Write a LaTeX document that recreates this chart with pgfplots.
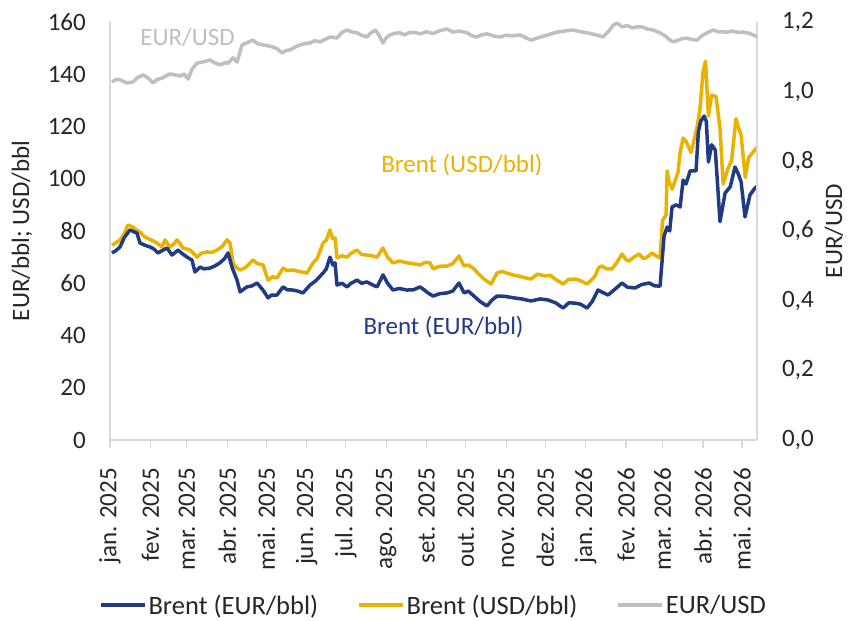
\documentclass[border=0pt]{standalone}
\usepackage{fontspec}
\setmainfont{Carlito}
\usepackage{pgfplots}
\pgfplotsset{compat=1.18}
\usepackage{pgfplotstable}
\definecolor{navy}{HTML}{203B83}
\definecolor{gold}{HTML}{EAB200}
\definecolor{lgray}{HTML}{BFBFBF}
\definecolor{axgray}{HTML}{D9D9D9}
\definecolor{txt}{HTML}{262626}
\newcommand\chartfont{\fontsize{25bp}{30bp}\selectfont}
\newcommand\legfont{\fontsize{26.5bp}{31bp}\selectfont}

\pgfplotstableread{
day val
1.5 1.028
4.6 1.035
7.7 1.034
10 1.030
13 1.025
17.7 1.028
21 1.040
25.3 1.048
29 1.040
33 1.025
36 1.035
39.9 1.039
43 1.045
46 1.051
50 1.048
53.7 1.045
57 1.050
59.9 1.036
63 1.065
66.8 1.082
71 1.085
76.7 1.091
80 1.083
84.4 1.077
88 1.083
90.6 1.082
94.4 1.097
97.5 1.085
101.3 1.134
105 1.140
109.7 1.148
113 1.138
117.4 1.134
121 1.132
125.1 1.128
128 1.124
132 1.111
135 1.118
138.1 1.120
142 1.128
145.8 1.134
150 1.138
153.5 1.140
157 1.146
161.2 1.143
165 1.150
168.8 1.157
174.2 1.154
178 1.170
181.9 1.177
185 1.172
189.6 1.169
193 1.162
197.2 1.157
200 1.168
203.4 1.177
206 1.165
209.5 1.140
212 1.155
214.9 1.163
218 1.167
222.6 1.169
226 1.163
230 1.170
235.6 1.169
238 1.166
243 1.172
248 1.167
253 1.175
258.6 1.180
263.2 1.171
268 1.174
274 1.169
278 1.160
281.7 1.157
285 1.163
289.3 1.166
294 1.160
299.3 1.157
304 1.162
309 1.160
314.7 1.163
319 1.155
323.1 1.148
327 1.153
330.8 1.157
336 1.163
343.1 1.171
349 1.174
355.3 1.177
361 1.172
366.1 1.169
372 1.164
378.4 1.157
383 1.175
386 1.190
389.1 1.197
393 1.186
397 1.190
400.6 1.183
404 1.186
408.3 1.186
412 1.180
416.7 1.177
422.1 1.169
426 1.160
429 1.150
432.1 1.143
436 1.148
439 1.152
442.8 1.154
446 1.150
450.5 1.148
454 1.160
458.2 1.169
462.8 1.177
467 1.172
473.5 1.171
478 1.174
482 1.170
485.8 1.171
490 1.168
493.5 1.163
496.5 1.157
}\eurusd

\pgfplotstableread{
day val
1.5 74.6
4.6 75.5
7.7 76.6
10.5 78.5
13.8 82.3
17.7 81.5
20 80.5
23 79.6
26 78.0
28.4 77.3
32 76.5
36.1 75.4
39.9 73.9
42.2 76.6
46 73.9
49 75.0
51.4 76.6
54 75.0
56 73.5
58.5 73.2
61.4 72.7
64 71.5
66.8 70.0
70 71.5
74.4 72.0
78 71.8
82.1 72.7
86 74.0
89.8 76.6
92.1 75.4
94.4 67.8
97 66.0
99.8 65.1
104 66.0
109.7 68.9
113 67.5
117.4 67.0
121.3 61.2
125 62.5
128.2 62.0
132.8 65.8
136 64.8
140.4 65.1
145 64.5
151.2 63.9
155.8 67.8
159 69.5
163.5 75.4
166 76.5
168.8 80.4
171 77.0
172.7 77.3
174.2 69.7
178 70.5
181.9 70.0
185 71.5
189.6 72.7
193 71.0
197.2 70.8
201 70.5
204.9 70.0
209.5 73.5
213 70.0
217.2 67.8
222 68.5
227.9 67.8
233 67.5
237.9 67.0
242 68.0
245.6 67.8
247.9 65.5
253 66.5
258.6 66.6
263 67.5
267.8 70.4
271.7 66.6
275 67.0
279.3 65.5
283 63.5
287 61.6
292.4 59.7
297 63.9
301 64.5
304.7 63.9
309 63.2
313.1 62.8
318 62.2
323.1 61.6
328 63.5
333.8 62.8
338 63.0
341.5 61.6
347.7 59.7
352 61.5
356.9 61.6
361 61.0
366.1 59.7
369 61.0
372.2 62.8
375 66.0
377.6 66.6
381 65.5
385.3 65.5
389 68.0
392.9 71.2
396 69.0
398.3 68.5
402 70.0
406 71.2
409 69.5
411.4 69.7
416 71.6
419 70.5
422.1 69.7
424 84.0
426.7 86.1
427.5 103.0
429 99.0
431.3 96.0
433.5 99.0
435.9 102.6
437.5 110.0
439.8 115.6
442 114.4
445.9 110.0
449.7 118.0
451 121.0
452.8 127.0
455.1 141.0
457 145.0
459.2 124.0
461.7 132.0
465 131.5
468.1 119.4
470.5 98.0
474.3 104.0
477 107.0
480.4 123.0
482 120.0
484.3 116.7
487.5 100.5
490 108.0
493.5 110.2
496.5 112.0
}\brentusd

\pgfplotstableread{
day val
1.5 71.6
4.6 72.5
7.7 73.9
11 77.5
15.3 80.4
18 79.8
20.7 79.2
23 75.4
27 74.5
30.7 73.9
34 73.0
36.8 71.6
40 72.5
43.7 73.5
47.6 70.8
52.2 72.7
55 71.5
59.1 70.0
62.9 68.9
65.2 64.3
69.1 66.2
72 65.5
76.7 65.8
80 66.5
84.4 67.8
88 69.5
90.6 71.6
93.6 66.2
97.5 61.2
99.8 56.7
105.1 58.6
109 59.0
112.8 60.1
117.4 57.4
121.3 54.4
124 55.5
128.2 55.5
132.8 58.6
136 57.5
140.4 57.4
144 57.0
148.1 56.3
153.5 59.3
158 61.0
163.5 63.9
166 65.5
168.8 70.0
171 67.0
172.7 67.8
174.2 59.3
178 60.0
181.9 58.6
185 60.0
189.6 61.2
193 60.0
197.2 60.5
201 59.5
204.9 58.6
209.5 63.2
213 60.0
217.2 57.4
222 58.0
227.9 57.4
233 57.5
237.9 58.6
241 57.5
244 56.3
247.9 55.1
253 56.0
258.6 56.3
263 57.0
267.8 60.1
271.7 56.3
275 57.0
279.3 55.1
284 53.0
289.3 51.3
293 53.5
297 55.1
303 55.0
310 54.4
316 54.0
323.1 53.2
330 54.0
336.1 53.6
342 52.5
347.7 50.5
352 52.5
356.9 52.4
361 52.0
366.1 50.5
370 53.0
374.5 57.4
378 56.5
382.2 55.5
387 57.5
392.9 60.1
397 58.5
402.9 58.2
408 59.5
413.7 60.1
418 59.0
422.1 58.9
425.2 78.1
427.5 81.5
429.5 80.0
431.3 89.2
434.4 90.0
437.5 89.2
439.8 99.5
442 98.0
445.2 103.0
449.7 103.0
451.5 118.0
453.3 122.0
456 124.0
457.6 122.0
459.2 106.4
461.7 113.0
464.5 111.0
468.1 83.6
472 94.5
476 97.0
479.6 104.5
482 102.0
484.3 98.8
487.3 85.4
491.1 93.8
495 96.5
496.5 97.0
}\brenteur

\begin{document}
\begin{tikzpicture}
\path[use as bounding box] (-110bp,-181bp) rectangle (739bp,440bp);
\begin{axis}[
  scale only axis, width=647bp, height=418bp,
  xmin=0, xmax=496.5, ymin=0, ymax=160,
  axis x line*=bottom, axis y line*=left,
  axis line style={-, draw=axgray, line width=1.2bp},
  xtick={0,31,59,90,120,151,181,212,243,273,304,334,365,396,424,455,485},
  xticklabels={jan. 2025,fev. 2025,mar. 2025,abr. 2025,mai. 2025,jun. 2025,jul. 2025,ago. 2025,set. 2025,out. 2025,nov. 2025,dez. 2025,jan. 2026,fev. 2026,mar. 2026,abr. 2026,mai. 2026},
  xtick align=outside, major tick length=8bp,
  x tick style={draw=axgray, line width=1.2bp},
  y tick style={draw=none},
  ytick={0,20,40,60,80,100,120,140,160},
  tick label style={font=\chartfont, text=txt},
  xticklabel style={rotate=90, anchor=east, inner sep=0pt},
  xticklabel shift=20bp,
  yticklabel style={anchor=east, inner sep=0pt},
  yticklabel shift=24bp,
  /pgf/number format/assume math mode=true,
  ylabel={EUR/bbl; USD/bbl},
  every axis y label/.style={at={(axis description cs:-0.136,0.5)}, anchor=center, rotate=90, font=\chartfont, text=txt},
]
\addplot[gold, line width=3.5bp, line join=round] table[x=day, y=val] {\brentusd};
\addplot[navy, line width=3.5bp, line join=round] table[x=day, y=val] {\brenteur};
\node[text=lgray, font=\chartfont] at (axis cs:59.5,154.3) {EUR/USD};
\node[text=gold, font=\chartfont] at (axis cs:270,105.3) {Brent (USD/bbl)};
\node[text=navy, font=\chartfont] at (axis cs:256,43.3) {Brent (EUR/bbl)};
\end{axis}
\begin{axis}[
  scale only axis, width=647bp, height=418bp,
  xmin=0, xmax=496.5, ymin=0, ymax=1.2,
  axis x line=none, axis y line*=right,
  axis line style={-, draw=axgray, line width=1.2bp},
  ytick={0,0.2,0.4,0.6,0.8,1.0,1.2},
  y tick style={draw=none},
  yticklabel style={font=\chartfont, text=txt, anchor=west, inner sep=0pt,
    /pgf/number format/fixed, /pgf/number format/fixed zerofill,
    /pgf/number format/precision=1, /pgf/number format/use comma},
  yticklabel shift=25bp,
  /pgf/number format/assume math mode=true,
  ylabel={EUR/USD},
  every axis y label/.style={at={(axis description cs:1.119,0.5)}, anchor=center, rotate=90, font=\chartfont, text=txt},
  legend style={at={(0.5,-0.395)}, anchor=center, draw=none, fill=none,
    font=\legfont, text=txt, legend columns=3, inner sep=0pt,
    /tikz/every even column/.append style={column sep=37bp}},
  legend cell align=left,
  legend image code/.code={\draw[#1, line width=3.5bp] (0bp,0bp) -- (44bp,0bp);},
]
\addlegendimage{navy}
\addlegendentry{Brent (EUR/bbl)}
\addlegendimage{gold}
\addlegendentry{Brent (USD/bbl)}
\addplot[lgray, line width=3.5bp, line join=round] table[x=day, y=val] {\eurusd};
\addlegendentry{EUR/USD}
\end{axis}
\end{tikzpicture}
\end{document}
